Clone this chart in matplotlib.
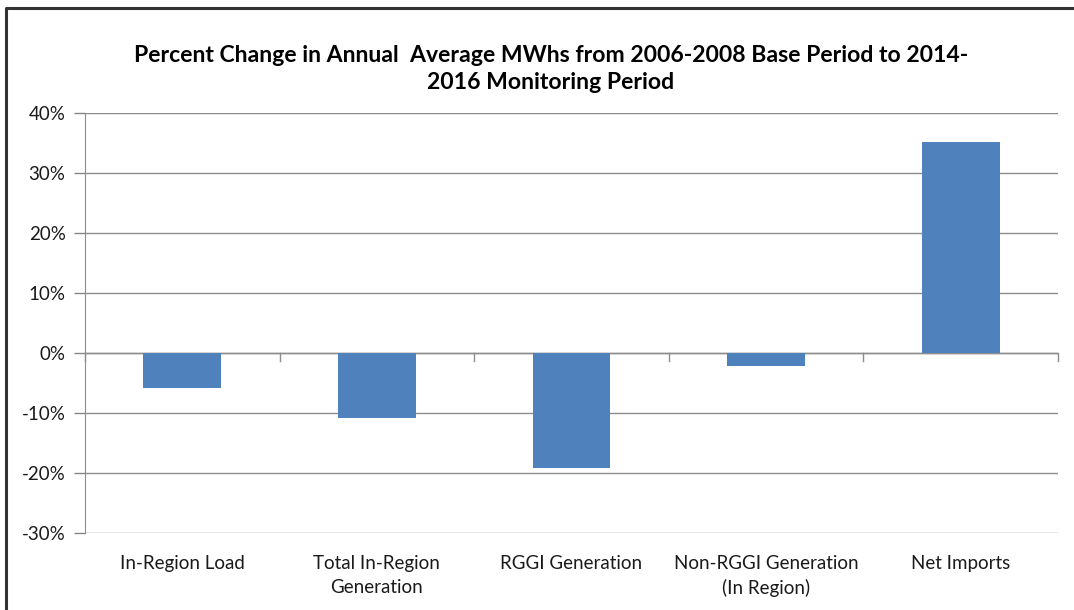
import matplotlib.pyplot as plt
from matplotlib.lines import Line2D
import numpy as np

plt.rcParams['font.family'] = ['Lato', 'DejaVu Sans']

categories = ['In-Region Load', 'Total In-Region\nGeneration', 'RGGI Generation',
              'Non-RGGI Generation\n(In Region)', 'Net Imports']
pct_change = [-5.8, -10.9, -19.1, -2.1, 35.2]
y_ticks = [-30, -20, -10, 0, 10, 20, 30, 40]

fig = plt.figure(figsize=(10.74, 6.10), dpi=100)
ax = fig.add_axes([85 / 1074, 1 - 533 / 610, 973 / 1074, 420 / 610])

x = np.arange(len(categories))
ax.bar(x, pct_change, width=0.4, color='#4F81BD', zorder=3)

ax.set_xlim(-0.5, len(categories) - 0.5)
ax.set_ylim(-30, 40)
ax.set_yticks(y_ticks)
ax.set_yticklabels([f'{v}%' for v in y_ticks])
ax.tick_params(axis='y', length=8, width=1, color='#868686', labelsize=13.5,
               labelcolor='#1a1a1a', pad=6)
ax.grid(axis='y', color='#8c8c8c', linewidth=1, zorder=0)

# category axis drawn at zero with boundary tick marks
ax.axhline(0, color='#8c8c8c', linewidth=1, zorder=2)
for b in np.arange(len(categories) + 1) - 0.5:
    ax.plot([b, b], [0, -1.3], color='#8c8c8c', linewidth=1, zorder=2, clip_on=False)

ax.set_xticks(x)
ax.set_xticklabels(categories, fontsize=13.5, color='#1a1a1a', linespacing=1.45)
ax.tick_params(axis='x', length=0, pad=16)

for side in ['top', 'right', 'bottom']:
    ax.spines[side].set_visible(False)
ax.spines['left'].set_color('#8c8c8c')

fig.text(551 / 1074, 1 - 69 / 610,
         'Percent Change in Annual  Average MWhs from 2006-2008 Base Period to 2014-\n2016 Monitoring Period',
         ha='center', va='center', fontsize=16.6, fontweight='bold', linespacing=1.4)

# outer chart frame (top and left edges visible)
fig.lines.append(Line2D([6 / 1074, 6 / 1074, 1.0], [0.0, 1 - 8 / 610, 1 - 8 / 610],
                        transform=fig.transFigure, color='#333333', linewidth=2.2))

fig.savefig('out.png', dpi=100)
